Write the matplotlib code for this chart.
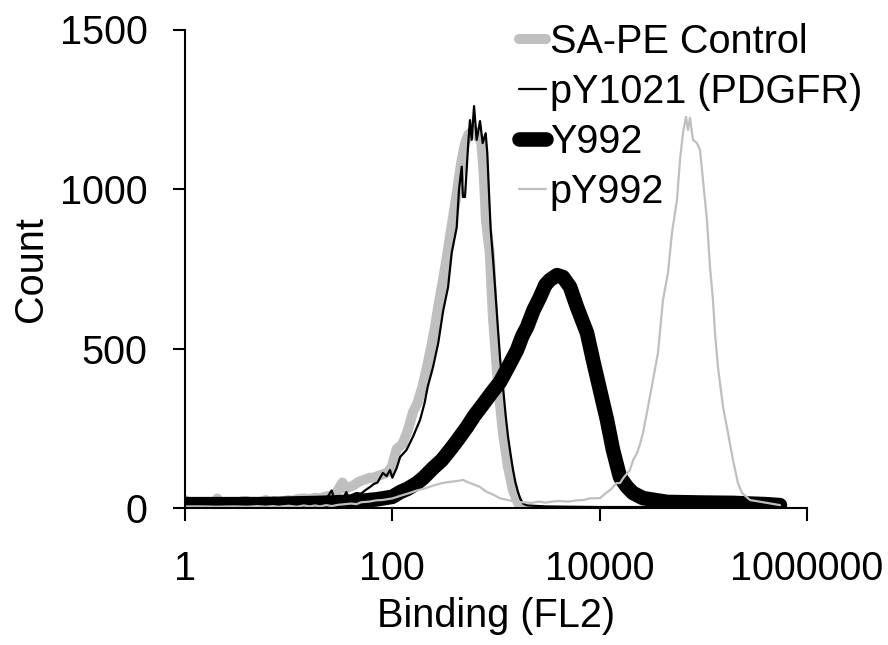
import matplotlib
matplotlib.use("Agg")
import matplotlib.pyplot as plt
from matplotlib.ticker import NullLocator

plt.rcParams['font.family'] = ['Liberation Sans', 'DejaVu Sans']

# ---------------- data ----------------
x_tick_values = [1, 100, 10000, 1000000]
x_tick_labels = ["1", "100", "10000", "1000000"]
y_tick_values = [0, 500, 1000, 1500]
series_labels = ["SA-PE Control", "pY1021 (PDGFR)", "Y992", "pY992"]

sape_x = [1, 1.15, 1.5, 1.9, 2.05, 2.2, 3, 3.6, 4, 4.3, 5, 6, 6.6, 7.2, 8, 9, 10, 11, 12,
          14, 16, 18, 20, 22, 25, 28, 31, 33, 35, 38, 42, 46, 50, 55, 60, 66, 72, 80, 88,
          95, 100, 110, 125, 140, 158, 175, 195, 215, 235, 255, 280, 310, 340, 380, 420,
          460, 500, 540, 600, 640, 680, 720, 760, 800, 870, 933,
          1043, 1165, 1303, 1455, 1626, 1750]
sape_y = [25, 10, 10, 12, 30, 12, 12, 22, 22, 12, 14, 25, 15, 22, 18, 22, 25, 22, 28,
          30, 28, 32, 30, 35, 38, 40, 65, 80, 60, 65, 70, 80, 85, 90, 95, 95, 100, 105, 110,
          120, 135, 185, 200, 240, 300, 330, 380, 440, 500, 560, 640, 720, 800, 900, 990,
          1080, 1140, 1170, 1185, 1175, 1160, 1150, 1050, 900, 800, 600,
          392, 235, 129, 56, 16, 4]

py1021_x = [1, 1.3, 1.6, 2, 2.2, 3, 4, 5, 6, 7, 8, 10, 12, 14, 16, 18, 20, 23, 26, 28, 30,
            33, 36, 38, 40, 45, 50, 55, 61, 66, 72, 81, 88, 95, 100, 110, 119, 137, 158, 185,
            205, 219, 247, 277, 310, 345, 374, 418, 440, 467, 480, 502, 540, 561,
            583, 614, 651, 701, 744, 795, 824, 862, 889, 942, 1000, 1045, 1100, 1168, 1240,
            1305, 1380, 1459, 1540, 1630, 1720, 1821, 2000, 3000, 5000, 10000, 30000, 100000,
            300000, 550000]
py1021_y = [12, 12, 12, 22, 12, 12, 14, 12, 20, 12, 15, 22, 14, 25, 15, 25, 14, 28, 55, 20, 28,
            25, 50, 30, 40, 47, 45, 56, 66, 75, 80, 110, 100, 119, 95, 125, 160, 182, 223, 276,
            330, 379, 442, 517, 620, 693, 800, 880, 1000, 1070, 975, 975, 1144, 1216,
            1154, 1260, 1154, 1213, 1144, 1175, 1113, 966, 872, 770, 650, 560, 460, 380, 290,
            225, 170, 120, 80, 50, 28, 14, 8, 5, 4, 3, 3, 2,
            2, 2]

y992_x = [1, 2, 3, 5, 8, 10, 15, 20, 30, 40, 50, 60, 70, 80, 100, 119, 140, 173, 200, 247,
          300, 360, 430, 525, 620, 749, 900, 1093, 1300, 1593, 1800, 1991, 2300, 2657, 3000,
          3316, 3875, 4426, 5176, 6044, 7546, 8621, 10070, 11770, 13440, 15700, 18350, 20950,
          26170, 44620, 100000, 193300, 400000, 548500]
y992_y = [12, 12, 12, 12, 13, 14, 15, 16, 18, 20, 22, 25, 27, 30, 35, 50, 60, 78, 95, 125,
          150, 182, 215, 254, 290, 325, 360, 395, 440, 495, 540, 567, 620, 661, 700,
          715, 730, 724, 693, 630, 549, 464, 370, 276, 182, 97, 66, 47,
          31, 19, 17, 16, 12, 9]

py992_x = [1, 1.5, 2, 3, 4, 5, 6, 7, 8, 10, 12, 14, 16, 18, 20, 23, 26, 30, 35, 40, 45, 50,
           60, 70, 80, 100, 119, 140, 173, 200, 247, 300, 360, 430, 480, 525, 600, 700, 800,
           950, 1100, 1300, 1500, 1800, 2200, 2600, 3000, 3500, 4000, 5000, 6000, 7000, 8000,
           10070, 11500, 13000, 14500, 15700, 17000, 19600, 21000, 22900, 24500, 26170, 29240,
           32690, 36500, 40800, 45600, 49800, 55700, 59550, 63660, 67960, 71100, 74300, 79430,
           86850, 92860, 103700, 108400, 115900, 123900, 129500, 138400, 154800, 172900,
           193300, 215800, 236000, 281800, 411000, 548500]
py992_y = [5, 5, 4, 5, 4, 6, 4, 6, 4, 7, 4, 8, 5, 8, 5, 9, 6, 10, 12, 14, 12, 18,
           20, 24, 25, 30, 38, 45, 55, 60, 70, 78, 82, 85, 88, 82, 75, 66, 52,
           41, 30, 25, 20, 18, 16, 20, 17, 20, 22, 20, 24, 25, 30,
           31, 47, 60, 78, 78, 95, 119, 150, 172, 200, 235, 317,
           401, 486, 652, 737, 862, 966, 1091, 1176, 1226, 1185, 1223, 1154,
           1144, 1122, 966, 903, 756, 652, 549, 442, 317, 235,
           150, 78, 47, 25, 16, 9]

# ---------------- figure ----------------
FS = 28.5
fig = plt.figure(figsize=(8.88, 6.45), dpi=100)
ax = fig.add_axes([185 / 888, 1 - 508 / 645, (807 - 185) / 888, (508 - 29.5) / 645])

grey = "#bfbfbf"
kw = dict(solid_capstyle="round", solid_joinstyle="round")
ax.plot(sape_x, sape_y, color=grey, lw=7.2, label=series_labels[0], **kw)
ax.plot(py1021_x, py1021_y, color="black", lw=1.6, label=series_labels[1], **kw)
ax.plot(y992_x, y992_y, color="black", lw=10.5, label=series_labels[2], **kw)
ax.plot(py992_x, py992_y, color=grey, lw=1.6, label=series_labels[3], **kw)

ax.set_xscale("log")
ax.set_xlim(1, 1e6)
ax.set_ylim(0, 1500)
ax.set_xticks(x_tick_values)
ax.set_xticklabels(x_tick_labels)
ax.set_yticks(y_tick_values)
ax.xaxis.set_minor_locator(NullLocator())
ax.yaxis.set_minor_locator(NullLocator())

for s in ["top", "right"]:
    ax.spines[s].set_visible(False)
for s in ["left", "bottom"]:
    ax.spines[s].set_linewidth(1.5)

ax.tick_params(axis="both", direction="out", length=9, width=1.5,
               labelsize=FS, color="black")
ax.tick_params(axis="y", pad=18)
ax.tick_params(axis="x", pad=21)

ax.set_xlabel("Binding (FL2)", fontsize=FS, labelpad=7)
ax.set_ylabel("Count", fontsize=FS, labelpad=7)

ax.legend(loc="upper left", bbox_to_anchor=(519 / 888, 1 - 23 / 645),
          bbox_transform=fig.transFigure, frameon=False, fontsize=FS,
          handlelength=0.68, handletextpad=0.1, labelspacing=0.3,
          borderpad=0, borderaxespad=0)

fig.savefig("out.png", dpi=100)
